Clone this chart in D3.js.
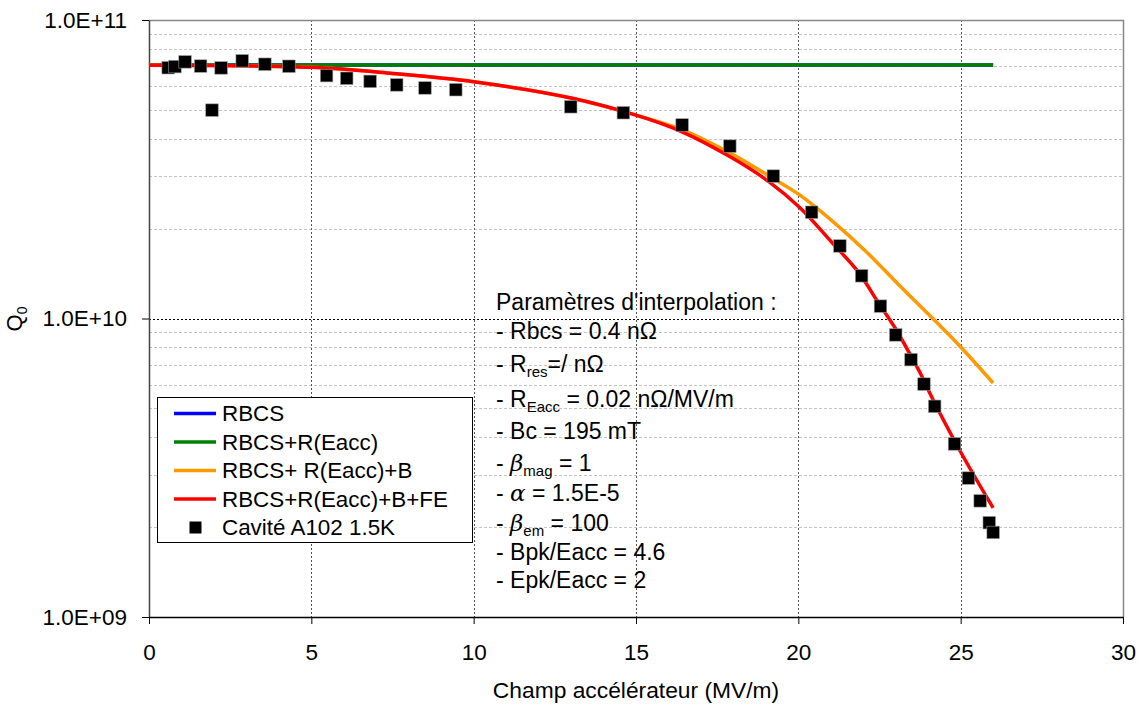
<!DOCTYPE html>
<html>
<head>
<meta charset="utf-8">
<script src="https://cdn.jsdelivr.net/npm/d3@7"></script>
<style>
  html, body { margin: 0; padding: 0; background: #fff; }
  svg text { font-family: "Liberation Sans", Arial, sans-serif; fill: #000; }
</style>
</head>
<body>
<svg id="chart" width="1141" height="706"></svg>
<script>
// ---------- data ----------
const xTickValues = [0, 5, 10, 15, 20, 25, 30];
const xTickLabels = ["0", "5", "10", "15", "20", "25", "30"];
const yTickValues = [1e9, 1e10, 1e11];
const yTickLabels = ["1.0E+09", "1.0E+10", "1.0E+11"];

const seriesNames = ["RBCS", "RBCS+R(Eacc)", "RBCS+ R(Eacc)+B", "RBCS+R(Eacc)+B+FE", "Cavité A102 1.5K"];

const rbcsX = [0, 26];
const rbcsQ = [7.07e10, 7.07e10];

const rEaccX = [0, 26];
const rEaccQ = [7.07e10, 7.07e10];

const bX = [0, 5, 7.5, 10, 13, 15, 16.4, 17.9, 19.1, 20.05, 21.05, 22.1, 23.1, 24.25, 25, 26];
const bQ = [7.05e10, 6.94e10, 6.62e10, 6.21e10, 5.48e10, 4.80e10, 4.30e10, 3.58e10, 3.00e10, 2.59e10, 2.12e10, 1.67e10, 1.295e10, 9.73e9, 8.03e9, 6.08e9];

const feX = [0, 5, 7.5, 10, 13, 15, 16.4, 17.9, 19.1, 20.05, 21.05, 21.85, 22.45, 23, 23.45, 23.8, 24, 25, 26];
const feQ = [7.05e10, 6.94e10, 6.62e10, 6.21e10, 5.48e10, 4.80e10, 4.23e10, 3.48e10, 2.87e10, 2.35e10, 1.79e10, 1.43e10, 1.136e10, 9.22e9, 7.55e9, 6.42e9, 5.76e9, 3.57e9, 2.32e9];

const cavX = [0.59, 0.80, 1.11, 1.59, 1.94, 2.22, 2.87, 3.57, 4.31, 5.47, 6.09, 6.81, 7.63, 8.50, 9.45, 12.99, 14.61, 16.42, 17.89, 19.23, 20.41, 21.28, 21.95, 22.53, 23.00, 23.47, 23.87, 24.20, 24.81, 25.24, 25.60, 25.88, 26.00];
const cavQ = [6.92e10, 6.98e10, 7.24e10, 7.01e10, 4.99e10, 6.91e10, 7.30e10, 7.11e10, 7.00e10, 6.51e10, 6.38e10, 6.23e10, 6.06e10, 5.92e10, 5.84e10, 5.12e10, 4.89e10, 4.45e10, 3.78e10, 3.00e10, 2.27e10, 1.75e10, 1.39e10, 1.10e10, 8.81e9, 7.28e9, 6.03e9, 5.08e9, 3.80e9, 2.92e9, 2.45e9, 2.07e9, 1.92e9];

// ---------- layout ----------
const L = 149, R = 1123, T = 20, B = 617;
const colors = ["#0000ff", "#008000", "#ff9900", "#ff0000"];

const svg = d3.select("#chart");
const x = d3.scaleLinear().domain([0, 30]).range([L, R]);
const y = d3.scaleLog().domain([1e9, 1e11]).range([B, T]);

// minor horizontal grid
const minorVals = [];
[1e9, 1e10].forEach(d => { for (let k = 2; k <= 9; k++) minorVals.push(d * k); });
svg.append("g").selectAll("line").data(minorVals).join("line")
  .attr("x1", L).attr("x2", R)
  .attr("y1", d => Math.round(y(d)) + 0.5).attr("y2", d => Math.round(y(d)) + 0.5)
  .attr("stroke", "#c4c4c4").attr("stroke-width", 1).attr("stroke-dasharray", "3,2");

// major horizontal grid (1E10)
svg.append("line")
  .attr("x1", L).attr("x2", R)
  .attr("y1", Math.round(y(1e10)) + 0.5).attr("y2", Math.round(y(1e10)) + 0.5)
  .attr("stroke", "#000").attr("stroke-width", 1).attr("stroke-dasharray", "2,2");

// vertical grid
svg.append("g").selectAll("line").data(xTickValues.filter(v => v > 0 && v < 30)).join("line")
  .attr("x1", d => Math.round(x(d)) + 0.5).attr("x2", d => Math.round(x(d)) + 0.5)
  .attr("y1", T).attr("y2", B)
  .attr("stroke", "#555").attr("stroke-width", 1).attr("stroke-dasharray", "2,2");

// plot border top/right
svg.append("path")
  .attr("d", `M${L},${T + 0.5}H${R + 0.5}V${B}`)
  .attr("fill", "none").attr("stroke", "#888").attr("stroke-width", 1.5);

// axes
const yAxis = d3.axisLeft(y).tickValues(yTickValues)
  .tickFormat((d, i) => yTickLabels[i]).tickSize(7).tickSizeOuter(0).tickPadding(15);
const gy = svg.append("g").attr("transform", `translate(${L},0)`).call(yAxis);
gy.select(".domain").attr("stroke", "#444").attr("stroke-width", 1.5);
gy.selectAll(".tick line").attr("stroke", "#000");
gy.selectAll(".tick text").style("font-size", "22.5px").attr("fill", "#000");

const xAxis = d3.axisBottom(x).tickValues(xTickValues)
  .tickFormat((d, i) => xTickLabels[i]).tickSize(7).tickSizeOuter(0).tickPadding(20);
const gx = svg.append("g").attr("transform", `translate(0,${B})`).call(xAxis);
gx.select(".domain").attr("stroke", "#000").attr("stroke-width", 1.5);
gx.selectAll(".tick line").attr("stroke", "#000");
gx.selectAll(".tick text").style("font-size", "22.5px").attr("fill", "#000");

// axis titles
svg.append("text").attr("x", (L + R) / 2).attr("y", 698)
  .attr("text-anchor", "middle").style("font-size", "22.8px")
  .text("Champ accélérateur (MV/m)");
const yt = svg.append("text").attr("transform", "translate(22,319) rotate(-90)")
  .attr("text-anchor", "middle").style("font-size", "22px");
yt.append("tspan").text("Q");
yt.append("tspan").attr("dy", 5).style("font-size", "14px").text("0");

// curves
const line = d3.line().x(d => x(d[0])).y(d => y(d[1])).curve(d3.curveCatmullRom.alpha(0.5));
const curves = [
  [rbcsX, rbcsQ], [rEaccX, rEaccQ], [bX, bQ], [feX, feQ]
];
curves.forEach((c, i) => {
  const pts = c[0].map((v, j) => [v, c[1][j]]);
  svg.append("path").datum(pts).attr("d", line)
    .attr("fill", "none").attr("stroke", colors[i]).attr("stroke-width", 3.5)
    .attr("stroke-linejoin", "round");
});

// markers
const ms = 12.5;
svg.append("g").selectAll("rect").data(cavX.map((v, j) => [v, cavQ[j]])).join("rect")
  .attr("x", d => x(d[0]) - ms / 2).attr("y", d => y(d[1]) - ms / 2)
  .attr("width", ms).attr("height", ms).attr("fill", "#000")
  .attr("stroke", "#999").attr("stroke-width", 0.6);

// annotation
const ann = svg.append("g");
const annLines = [
  [["Paramètres d'interpolation :", "n"]],
  [["- Rbcs = 0.4 nΩ", "n"]],
  [["- R", "n"], ["res", "sub"], ["=/ nΩ", "n"]],
  [["- R", "n"], ["Eacc", "sub"], [" = 0.02 nΩ/MV/m", "n"]],
  [["- Bc = 195 mT", "n"]],
  [["- ", "n"], ["β", "g"], ["mag", "sub"], [" = 1", "n"]],
  [["- ", "n"], ["α", "g"], [" = 1.5E-5", "n"]],
  [["- ", "n"], ["β", "g"], ["em", "sub"], [" = 100", "n"]],
  [["- Bpk/Eacc = 4.6", "n"]],
  [["- Epk/Eacc = 2", "n"]]
];
const annBase = [310, 339, 372, 407, 439, 471, 501, 531, 560, 588];
annLines.forEach((parts, i) => {
  const t = ann.append("text").attr("x", 496).attr("y", annBase[i]).style("font-size", "23px");
  let sub = false;
  parts.forEach(p => {
    const s = t.append("tspan").text(p[0]);
    if (p[1] === "sub") { s.style("font-size", "15px").attr("dy", 5); sub = true; }
    else {
      if (sub) { s.attr("dy", -5); sub = false; }
      if (p[1] === "g") s.style("font-style", "italic").style("font-family", "'DejaVu Serif', serif");
    }
  });
});

// legend
const lg = svg.append("g");
lg.append("rect").attr("x", 157.5).attr("y", 397.5).attr("width", 315).attr("height", 145)
  .attr("fill", "#fff").attr("stroke", "#000").attr("stroke-width", 1);
seriesNames.forEach((name, i) => {
  const cy = 413.5 + i * 28.5;
  if (i < 4) {
    lg.append("line").attr("x1", 174).attr("x2", 216).attr("y1", cy).attr("y2", cy)
      .attr("stroke", colors[i]).attr("stroke-width", 3.5);
  } else {
    lg.append("rect").attr("x", 189.5).attr("y", cy - 6).attr("width", 12).attr("height", 12).attr("fill", "#000");
  }
  lg.append("text").attr("x", 222).attr("y", cy + 7.5).style("font-size", "22.4px").text(name);
});
</script>
</body>
</html>
